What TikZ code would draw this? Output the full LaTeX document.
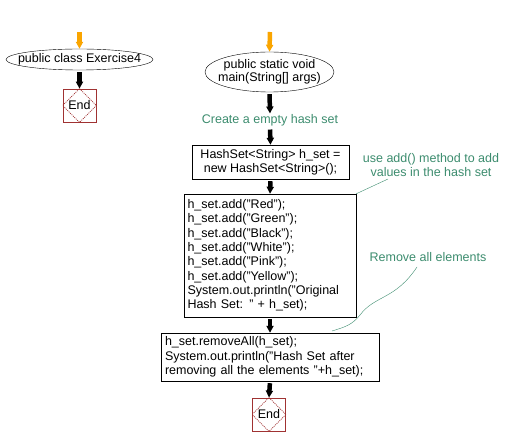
\documentclass[tikz,border=0pt]{standalone}
\usepackage{fontspec}
\setmainfont{Liberation Sans}
\usetikzlibrary{shapes.geometric,arrows.meta}
\definecolor{redc}{RGB}{160,50,50}
\definecolor{greenc}{RGB}{60,140,110}
\definecolor{orangec}{RGB}{250,165,0}
\tikzset{
  every node/.style={font=\fontsize{12.5}{14.3}\selectfont},
  flow/.style={-{Triangle[width=7pt,length=7pt]}, line width=4.5pt, shorten <=2pt},
  startflow/.style={flow, orangec},
  oval/.style={ellipse, draw, thin, inner sep=0pt},
  procbox/.style={rectangle, draw, thin},
  endbox/.style={rectangle, draw=redc, line width=0.8pt, minimum size=33pt, inner sep=0pt},
  diam/.style={redc, line width=0.8pt, dash pattern=on 1pt off 1pt},
  note/.style={text=greenc, align=center, inner sep=1pt},
  noteline/.style={greenc, thin}
}
\newcommand{\stopdiamond}[1]{\draw[diam] (#1.north) -- (#1.east) -- (#1.south) -- (#1.west) -- cycle;}
\begin{document}
\begin{tikzpicture}[x=1pt,y=-1pt]
\useasboundingbox (0,0) rectangle (508,446);
% left chain
\coordinate (s1) at (79.5,30);
\node[oval, minimum width=147pt, minimum height=21pt] (e1) at (79.5,59.5) {\makebox[0pt]{public class Exercise4}};
\node[endbox] (end1) at (79.5,105.5) {};
\stopdiamond{end1}
\node (t1) at (end1.center) {End};
\draw[startflow] (s1) -- (e1.north);
\draw[flow] (e1.south) -- (end1.north);
% right chain
\coordinate (s2) at (270,30);
\node[oval, minimum width=129pt, minimum height=40pt] (e2) at (269.5,72) {\makebox[0pt]{\begin{tabular}{@{}c@{}}public static void\\[-1pt] main(String[] args)\end{tabular}}};
\node[note, text=greenc] (lbl1) at (270,120.5) {Create a empty hash set};
\node[procbox, minimum width=157pt, minimum height=34pt, align=center, inner sep=0pt] (b1) at (270.5,162) {HashSet<String> h\_set =\\ new HashSet<String>();};
\node[procbox, minimum width=172pt, minimum height=123pt, text width=165pt, align=left, inner xsep=3.5pt, inner ysep=0pt] (b2) at (270,255.5) {h\_set.add("Red");\\ h\_set.add("Green");\\ h\_set.add("Black");\\ h\_set.add("White");\\ h\_set.add("Pink");\\ h\_set.add("Yellow");\\ System.out.println("Original\\ Hash Set: " + h\_set);};
\node[procbox, minimum width=218pt, minimum height=48pt, text width=210pt, align=left, inner xsep=4pt, inner ysep=0pt] (b3) at (270,357) {h\_set.removeAll(h\_set);\\ System.out.println("Hash Set after\\ removing all the elements "+h\_set);};
\node[endbox] (end2) at (269,414.5) {};
\stopdiamond{end2}
\node (t2) at (end2.center) {End};
\draw[startflow] (s2) -- (e2.north);
\draw[flow] (e2.south) -- (lbl1.north);
\draw[flow] (lbl1.south) -- (b1.north);
\draw[flow] (b1.south) -- (b2.north);
\draw[flow] (b2.south) -- (b3.north);
\draw[flow] (b3.south) -- (end2.north);
% annotations
\node[note] (n1) at (431,165) {use add() method to add\\ values in the hash set};
\coordinate (n1end) at (388,179);
\draw[noteline] (b2.north east) -- (n1end);
\node[note] (n2) at (428,257) {Remove all elements};
\coordinate (n2a) at (417,267);
\coordinate (n2b) at (332,331);
\draw[noteline] (n2a) .. controls (395,300) and (375,295) .. (360,315) .. controls (352,325) and (345,327) .. (n2b);
\end{tikzpicture}
\end{document}
